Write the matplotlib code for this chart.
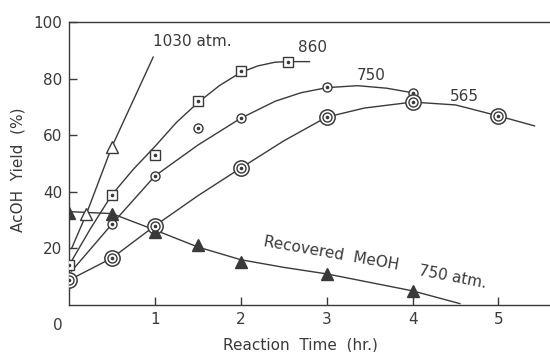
#!/usr/bin/env python3
"""
AcOH yield vs reaction time at several pressures, plus recovered MeOH (750 atm).
Output: out.png
"""

import matplotlib
matplotlib.use('Agg')
import matplotlib.pyplot as plt

# ── Data ────────────────────────────────────────────────────────────
# measured points
t_1030 = [0.2, 0.5]
y_1030 = [32, 56]
t_860 = [0.0, 0.5, 1.0, 1.5, 2.0, 2.55]
y_860 = [14, 39, 53, 72, 82.7, 86]
t_750 = [0.5, 1.0, 1.5, 2.0, 3.0, 4.0]
y_750 = [28.6, 45.6, 62.5, 66, 77, 75]
t_565 = [0.0, 0.5, 1.0, 2.0, 3.0, 4.0, 5.0]
y_565 = [8.8, 16.6, 28, 48.4, 66.4, 71.7, 66.8]
t_meoh = [0.0, 0.5, 1.0, 1.5, 2.0, 3.0, 4.0]
y_meoh = [32.5, 32, 25.8, 21.2, 15.2, 11, 5]

# hand-drawn trend curves (traced)
cx_1030 = [0.03, 0.2, 0.5, 0.98]
cy_1030 = [20, 32, 56, 87.6]
cx_860 = [0.0, 0.25, 0.5, 0.75, 1.0, 1.25, 1.5, 1.75, 2.0, 2.2, 2.4, 2.55, 2.8]
cy_860 = [14, 27, 39, 48, 56, 64.5, 71.5, 77.5, 82.2, 84.5, 85.8, 86, 86]
cx_750 = [0.03, 0.5, 1.0, 1.5, 2.0, 2.4, 2.7, 3.0, 3.36, 3.7, 4.0]
cy_750 = [12, 28.6, 45.6, 56.5, 66, 72, 75, 76.8, 77.5, 76.6, 75]
cx_565 = [0.0, 0.5, 1.0, 1.5, 2.0, 2.5, 3.0, 3.44, 4.0, 4.5, 5.0, 5.42]
cy_565 = [8.8, 16.6, 28, 38.6, 48.4, 58, 66.4, 69.6, 71.7, 70.7, 66.8, 63.3]
cx_meoh = [0.0, 0.5, 1.0, 1.5, 2.0, 2.5, 3.0, 3.5, 4.0, 4.55]
cy_meoh = [33, 32.3, 26.5, 20.5, 16, 13.3, 11, 8, 5, 0.5]

XTICKS = [1, 2, 3, 4, 5]
YTICKS = [20, 40, 60, 80, 100]

INK = '#3a3a3a'
plt.rcParams['font.family'] = 'DejaVu Sans'
plt.rcParams['font.size'] = 11

# ── Figure ──────────────────────────────────────────────────────────
fig = plt.figure(figsize=(5.5, 3.52), dpi=100)
ax = fig.add_axes([0.1255, 0.1335, 0.8745, 0.804])

lw = 1.0
for cx, cy in [(cx_1030, cy_1030), (cx_860, cy_860), (cx_750, cy_750),
               (cx_565, cy_565), (cx_meoh, cy_meoh)]:
    ax.plot(cx, cy, color=INK, lw=lw, zorder=2)

# 1030 atm: open triangles
ax.plot(t_1030, y_1030, ls='none', marker='^', ms=8, mfc='white', mec=INK, mew=1.0, zorder=3)
# 860 atm: dotted squares
ax.plot(t_860, y_860, ls='none', marker='s', ms=7, mfc='white', mec=INK, mew=1.0, zorder=3)
ax.plot(t_860, y_860, ls='none', marker='o', ms=1.6, mfc=INK, mec=INK, zorder=4)
# 750 atm: dotted circles
ax.plot(t_750, y_750, ls='none', marker='o', ms=6.5, mfc='white', mec=INK, mew=1.0, zorder=3)
ax.plot(t_750, y_750, ls='none', marker='o', ms=1.6, mfc=INK, mec=INK, zorder=4)
# 565 atm: double circles
ax.plot(t_565, y_565, ls='none', marker='o', ms=11, mfc='white', mec=INK, mew=1.1, zorder=3)
ax.plot(t_565, y_565, ls='none', marker='o', ms=6.5, mfc='white', mec=INK, mew=1.0, zorder=4)
ax.plot(t_565, y_565, ls='none', marker='o', ms=1.6, mfc=INK, mec=INK, zorder=5)
# recovered MeOH: filled triangles
ax.plot(t_meoh, y_meoh, ls='none', marker='^', ms=8, mfc=INK, mec=INK, zorder=3)

ax.set_xlim(0, 5.6)
ax.set_ylim(0, 100)
ax.set_xticks(XTICKS)
ax.set_yticks(YTICKS)
ax.tick_params(direction='in', length=6, width=1.0, color=INK, labelcolor=INK,
               labelsize=11, pad=5)
for side in ['left', 'bottom', 'top']:
    ax.spines[side].set_color(INK)
    ax.spines[side].set_linewidth(1.0)
ax.spines['right'].set_visible(False)

# origin label
ax.text(-0.13, -4.5, '0', ha='center', va='top', color=INK, fontsize=11)

# curve labels
ax.text(1.43, 93, '1030 atm.', ha='center', va='center', color=INK, fontsize=11)
ax.text(2.84, 91, '860', ha='center', va='center', color=INK, fontsize=11)
ax.text(3.52, 81, '750', ha='center', va='center', color=INK, fontsize=11)
ax.text(4.6, 73.5, '565', ha='center', va='center', color=INK, fontsize=11)
ax.text(3.05, 18.3, 'Recovered  MeOH', ha='center', va='center', color=INK,
        fontsize=11, rotation=-10)
ax.text(4.47, 9.9, '750 atm.', ha='center', va='center', color=INK,
        fontsize=11, rotation=-11)

# axis titles
fig.text(18 / 550, 1 - 170 / 352, 'AcOH  Yield  (%)', rotation=90,
         ha='center', va='center', color=INK, fontsize=11)
fig.text(300 / 550, 1 - 345 / 352, 'Reaction  Time  (hr.)',
         ha='center', va='center', color=INK, fontsize=11)

fig.savefig('out.png', dpi=100)
